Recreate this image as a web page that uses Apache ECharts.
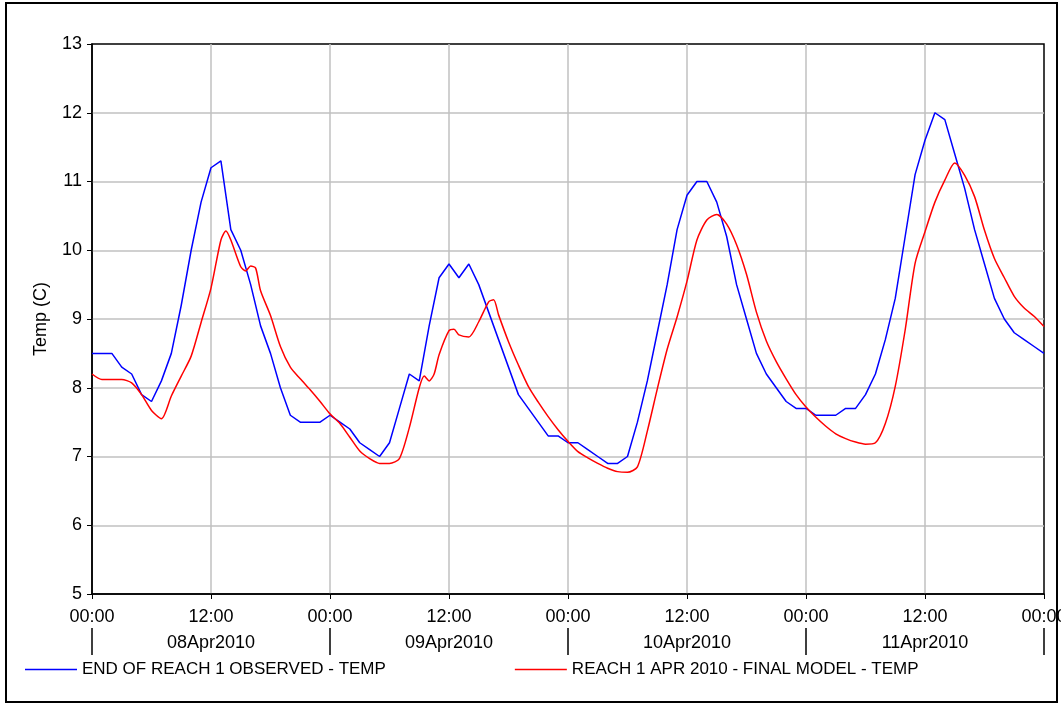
<!DOCTYPE html>
<html><head><meta charset="utf-8">
<script src="https://cdn.jsdelivr.net/npm/echarts@6/dist/echarts.min.js"></script>
<style>
html,body{margin:0;padding:0;background:#fff}
#c{position:absolute;left:0;top:0;width:1061px;height:704px}
#frame{position:absolute;left:5px;top:2px;width:1049px;height:697px;border:2px solid #000;pointer-events:none}
</style>
</head><body><div id="c"></div><div id="frame"></div>
<script>
// Day labels (second row of x axis) and time-of-day tick labels
const dayLabels = ['08Apr2010', '09Apr2010', '10Apr2010', '11Apr2010'];
const timeTickLabels = ['00:00', '12:00'];

// Observed temperature, hourly from 08Apr2010 00:00 to 12Apr2010 00:00
const observedTemp = [
  8.5, 8.5, 8.5, 8.3, 8.2, 7.9, 7.8, 8.1, 8.5, 9.2, 10.0, 10.7, 11.2, 11.3, 10.3, 10.0, 9.5, 8.9, 8.5, 8.0, 7.6, 7.5, 7.5, 7.5,
  7.6, 7.5, 7.4, 7.2, 7.1, 7.0, 7.2, 7.7, 8.2, 8.1, 8.9, 9.6, 9.8, 9.6, 9.8, 9.5, 9.1, 8.7, 8.3, 7.9, 7.7, 7.5, 7.3, 7.3,
  7.2, 7.2, 7.1, 7.0, 6.9, 6.9, 7.0, 7.5, 8.1, 8.8, 9.5, 10.3, 10.8, 11.0, 11.0, 10.7, 10.2, 9.5, 9.0, 8.5, 8.2, 8.0, 7.8, 7.7,
  7.7, 7.6, 7.6, 7.6, 7.7, 7.7, 7.9, 8.2, 8.7, 9.3, 10.2, 11.1, 11.6, 12.0, 11.9, 11.4, 10.9, 10.3, 9.8, 9.3, 9.0, 8.8, 8.7, 8.6,
  8.5
];

// Model temperature: hours since 08Apr2010 00:00 and values
const modelHours = [
  0, 1, 2, 3, 4, 5, 6, 7, 8, 9, 10, 11, 12, 13, 13.5, 14, 15, 15.5, 16, 16.5, 17, 18, 19, 20, 21, 22, 23,
  24, 25, 26, 27, 28, 29, 30, 31, 32, 33, 33.5, 34, 34.5, 35, 36, 36.5, 37, 38, 39, 40, 40.5, 41, 42, 43, 44, 45, 46, 47,
  48, 49, 50, 51, 52, 53, 54, 55, 56, 57, 58, 59, 60, 61, 62, 63, 64, 65, 66, 67, 68, 69, 70, 71,
  72, 73, 74, 75, 76, 77, 78, 79, 80, 81, 82, 83, 84, 85, 86, 87, 88, 89, 90, 91, 92, 93, 94, 95, 96
];
const modelTemp = [
  8.2, 8.12, 8.12, 8.12, 8.07, 7.9, 7.67, 7.55, 7.88, 8.17, 8.46, 8.95, 9.45, 10.15, 10.28, 10.15, 9.76, 9.7, 9.77, 9.74, 9.41, 9.05, 8.6, 8.3, 8.13, 7.97, 7.8,
  7.62, 7.48, 7.28, 7.08, 6.97, 6.9, 6.9, 6.97, 7.42, 8.0, 8.17, 8.1, 8.2, 8.48, 8.83, 8.85, 8.77, 8.74, 8.96, 9.25, 9.28, 9.06, 8.67, 8.33, 8.02, 7.79, 7.58, 7.39,
  7.22, 7.07, 6.98, 6.9, 6.83, 6.78, 6.77, 6.85, 7.37, 7.98, 8.56, 9.03, 9.55, 10.15, 10.44, 10.52, 10.38, 10.08, 9.65, 9.1, 8.68, 8.38, 8.13, 7.9,
  7.72, 7.57, 7.44, 7.33, 7.26, 7.21, 7.18, 7.2, 7.48, 8.02, 8.84, 9.81, 10.27, 10.7, 11.02, 11.27, 11.09, 10.78, 10.29, 9.88, 9.6, 9.33, 9.16, 9.04,
  8.89
];

const seriesNames = ['END OF REACH 1 OBSERVED - TEMP', 'REACH 1 APR 2010 - FINAL MODEL - TEMP'];

const FONT = '"Liberation Sans", Arial, sans-serif';
const chart = echarts.init(document.getElementById('c'), null, {renderer: 'canvas'});

chart.setOption({
  animation: false,
  backgroundColor: '#fff',
  grid: {
    left: 92, right: 17, top: 44, bottom: 110, containLabel: false, outerBoundsMode: 'none',
    show: true, borderColor: '#000', borderWidth: 1.5, backgroundColor: 'transparent'
  },
  legend: {
    left: 20, top: 656, itemWidth: 52, itemHeight: 1.5, itemGap: 129, icon: 'rect',
    textStyle: {fontSize: 17, color: '#000', fontFamily: FONT},
    data: seriesNames
  },
  xAxis: [
    {
      type: 'value', min: 0, max: 96, interval: 12,
      axisLine: {show: true, onZero: false, lineStyle: {color: '#000', width: 1.5}},
      axisTick: {show: true, length: 5, lineStyle: {color: '#000', width: 1}},
      axisLabel: {
        fontSize: 18, color: '#000', fontFamily: FONT, margin: 14,
        showMinLabel: true, showMaxLabel: true,
        formatter: v => timeTickLabels[Math.round(v / 12) % 2]
      },
      splitLine: {show: true, showMinLine: false, showMaxLine: false, lineStyle: {color: '#c0c0c0', width: 1.5}}
    },
    {
      type: 'category', data: dayLabels, position: 'bottom', offset: 61, boundaryGap: true,
      axisLine: {show: false},
      axisTick: {show: true, inside: true, length: 27, lineStyle: {color: '#000', width: 1.5}},
      axisLabel: {inside: true, margin: 3, fontSize: 18, color: '#000', fontFamily: FONT},
      splitLine: {show: false}
    }
  ],
  yAxis: {
    type: 'value', min: 5, max: 13, interval: 1,
    name: 'Temp (C)', nameLocation: 'middle', nameGap: 42,
    nameTextStyle: {fontSize: 18, color: '#000', fontFamily: FONT},
    axisLine: {show: true, lineStyle: {color: '#000', width: 1.5}},
    axisTick: {show: true, length: 5, lineStyle: {color: '#000', width: 1}},
    axisLabel: {fontSize: 18, color: '#000', fontFamily: FONT, margin: 10},
    splitLine: {show: true, showMinLine: false, showMaxLine: false, lineStyle: {color: '#c0c0c0', width: 1.5}}
  },
  series: [
    {
      name: seriesNames[0], type: 'line', xAxisIndex: 0,
      data: observedTemp.map((v, i) => [i, v]),
      symbol: 'none', lineStyle: {color: '#0000ff', width: 1.5}, itemStyle: {color: '#0000ff'}
    },
    {
      name: seriesNames[1], type: 'line', xAxisIndex: 0,
      data: modelHours.map((h, i) => [h, modelTemp[i]]),
      symbol: 'none', smooth: 0.25, lineStyle: {color: '#ff0000', width: 1.5}, itemStyle: {color: '#ff0000'}
    }
  ]
});
</script>
</body></html>
